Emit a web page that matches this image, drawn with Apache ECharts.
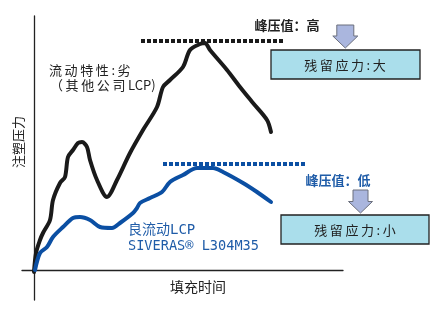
<!DOCTYPE html>
<html>
<head>
<meta charset="utf-8">
<script src="https://cdn.jsdelivr.net/npm/echarts@6/dist/echarts.min.js"></script>
<style>
html,body{margin:0;padding:0;background:#fff;}
#chart{width:442px;height:317px;}
</style>
</head>
<body>
<div id="chart"></div>
<script>
// Filling time (x) and injection pressure (y), arbitrary units
const blackTime = [0, 1, 3, 4.5, 8, 9.5, 13, 15.5, 17, 19.5, 22, 24, 26.5, 28, 31.5, 36.5, 41.5, 48, 54.5, 61.5, 64.5, 68, 74.5, 78, 83, 85.5, 88, 96.5, 103, 109.5, 116.5, 118.5];
const blackPressure = [-1, 8.5, 15, 18.5, 25, 35, 43.5, 46.5, 56.5, 60, 63.5, 64, 61.5, 55, 45, 36.5, 45, 58.5, 70, 81.5, 91.5, 95, 101.5, 110, 113, 113.5, 110, 100, 91.5, 83.5, 75, 69];
const blueTime = [0.5, 3, 6.5, 9.5, 14.5, 19.5, 23, 28, 33, 39, 43, 49.5, 51.5, 53, 58, 64, 68, 74.5, 81.5, 89.5, 94.5, 104.5, 111.5, 118.5];
const bluePressure = [0, 8.5, 11.5, 16.5, 21.5, 26, 26.5, 25, 21.5, 21, 23.5, 28.5, 31, 33.5, 36, 39, 44, 47.5, 51, 51, 49, 43.5, 39, 34];
const peakHighTime = [53.5, 124.5];
const peakHighValue = [114.5, 114.5];
const peakLowTime = [64.5, 135.5];
const peakLowValue = [53, 53];

const axisTitleY = '注塑压力';
const axisTitleX = '填充时间';
const labelBlack = ['流动特性:劣', '（其他公司LCP)'];
const labelBlue = ['良流动LCP', 'SIVERAS® L304M35'];
const peakHighText = '峰压值：高';
const peakLowText = '峰压值：低';
const stressHighText = '残留应力:大';
const stressLowText = '残留应力:小';

function zip(a, b) { return a.map((v, i) => [v, b[i]]); }
// widen the tracking of CJK text a little with thin spaces
function spaced(s, sp) {
  const chars = Array.from(s);
  let out = '';
  chars.forEach((c, i) => {
    out += c;
    const next = chars[i + 1];
    if (next && (/[^\x00-\x7f]/.test(c) || /[^\x00-\x7f]/.test(next))) out += sp;
  });
  return out;
}

const CJK = '"Noto Sans CJK SC", "Noto Sans", sans-serif';
const MONO = '"DejaVu Sans Mono", "Noto Sans CJK SC", monospace';
const BLUE = '#0b4fa3';
const BLUE_TXT = '#1f5ca8';
const TS = '\u2009';

function arrow(cx, top, shaftHalf, headHalf, headY, tipY) {
  return {
    type: 'polygon',
    shape: { points: [
      [cx - shaftHalf, top], [cx + shaftHalf, top], [cx + shaftHalf, headY],
      [cx + headHalf, headY], [cx, tipY], [cx - headHalf, headY], [cx - shaftHalf, headY]
    ]},
    style: { fill: '#aab6de', stroke: '#6b6f7c', lineWidth: 1 }
  };
}

const chart = echarts.init(document.getElementById('chart'));
chart.setOption({
  animation: false,
  backgroundColor: '#fff',
  grid: { left: 22, right: 99, top: 16, bottom: 17, containLabel: false },
  xAxis: {
    type: 'value', min: -6, max: 154.5,
    axisLine: { onZero: true, lineStyle: { color: '#222', width: 1.3 } },
    axisTick: { show: false }, axisLabel: { show: false }, splitLine: { show: false }
  },
  yAxis: {
    type: 'value', min: -15, max: 127,
    axisLine: { show: true, onZero: true, lineStyle: { color: '#222', width: 1.3 } },
    axisTick: { show: false }, axisLabel: { show: false }, splitLine: { show: false }
  },
  series: [
    { type: 'line', data: zip(peakHighTime, peakHighValue), symbol: 'none', silent: true,
      lineStyle: { color: '#1a1a1a', width: 4, type: [4, 2], cap: 'butt' } },
    { type: 'line', data: zip(peakLowTime, peakLowValue), symbol: 'none', silent: true,
      lineStyle: { color: BLUE, width: 4, type: [4, 2], cap: 'butt' } },
    { type: 'line', data: zip(blackTime, blackPressure), symbol: 'none', smooth: 0.3,
      lineStyle: { color: '#1a1a1a', width: 4, cap: 'round', join: 'round' } },
    { type: 'line', data: zip(blueTime, bluePressure), symbol: 'none', smooth: 0.3,
      lineStyle: { color: BLUE, width: 4, cap: 'round', join: 'round' } }
  ],
  graphic: [
    { type: 'text', x: 18, y: 142, rotation: Math.PI / 2,
      style: { text: axisTitleY, font: '13px ' + CJK, fill: '#222', align: 'center', verticalAlign: 'middle' } },
    { type: 'text', x: 198, y: 287,
      style: { text: axisTitleX, font: '14px ' + CJK, fill: '#222', align: 'center', verticalAlign: 'middle' } },
    { type: 'text', x: 49, y: 70,
      style: { text: spaced(labelBlack[0], TS), font: '13px ' + CJK, fill: '#222', align: 'left', verticalAlign: 'middle' } },
    { type: 'text', x: 50, y: 85,
      style: { text: spaced(labelBlack[1], TS), font: '13px ' + CJK, fill: '#222', align: 'left', verticalAlign: 'middle' } },
    { type: 'text', x: 128, y: 230,
      style: { text: labelBlue[0], font: '14px ' + MONO, fill: BLUE_TXT, align: 'left', verticalAlign: 'middle' } },
    { type: 'text', x: 128, y: 246,
      style: { text: labelBlue[1], font: '13.6px ' + MONO, fill: BLUE_TXT, align: 'left', verticalAlign: 'middle' } },
    { type: 'text', x: 287, y: 25,
      style: { text: peakHighText, font: 'bold 13px ' + CJK, fill: '#222', align: 'center', verticalAlign: 'middle' } },
    { type: 'text', x: 338, y: 180,
      style: { text: peakLowText, font: 'bold 13px ' + CJK, fill: BLUE_TXT, align: 'center', verticalAlign: 'middle' } },
    arrow(345.3, 25, 8.5, 12.5, 36, 48),
    arrow(360.5, 190, 7.5, 12, 201.5, 213),
    { type: 'rect', shape: { x: 271, y: 50, width: 149, height: 29 },
      style: { fill: '#aadeeb', stroke: '#222', lineWidth: 1.3 } },
    { type: 'text', x: 345, y: 65,
      style: { text: spaced(stressHighText, TS), font: '13px ' + CJK, fill: '#222', align: 'center', verticalAlign: 'middle' } },
    { type: 'rect', shape: { x: 281, y: 215, width: 148, height: 29 },
      style: { fill: '#aadeeb', stroke: '#222', lineWidth: 1.3 } },
    { type: 'text', x: 355, y: 230,
      style: { text: spaced(stressLowText, TS), font: '13px ' + CJK, fill: '#222', align: 'center', verticalAlign: 'middle' } }
  ]
});
</script>
</body>
</html>
